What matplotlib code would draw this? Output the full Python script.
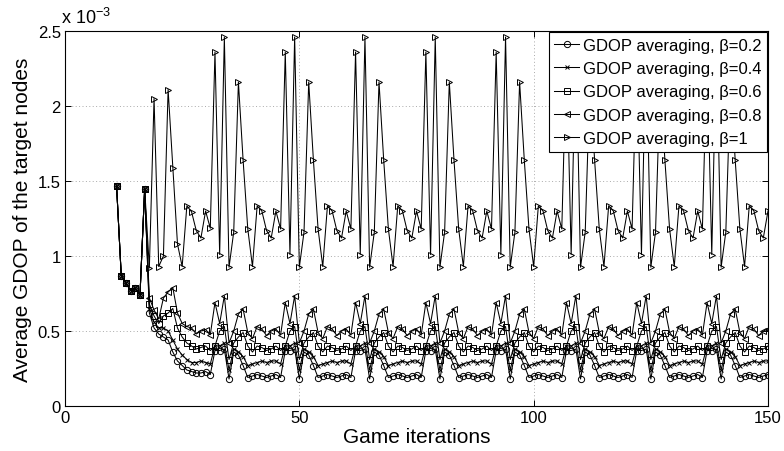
import matplotlib
matplotlib.use("Agg")
import matplotlib.pyplot as plt

plt.rcParams['font.family'] = ['Liberation Sans', 'DejaVu Sans']
plt.rcParams['mathtext.fontset'] = 'custom'
plt.rcParams['mathtext.rm'] = 'Liberation Sans'
plt.rcParams['mathtext.it'] = 'Liberation Sans:italic'

# Game iterations 11..150
iterations = list(range(11, 151))

# Average GDOP of the target nodes (units of 1e-3)
gdop_beta_02 = [
    1.47, 0.87, 0.82, 0.77, 0.785, 0.74, 1.45,
    0.62, 0.52, 0.48, 0.46, 0.44, 0.36, 0.30, 0.27, 0.24, 0.23, 0.22, 0.22, 0.23, 0.21,
    0.37, 0.37, 0.38, 0.18, 0.36, 0.34, 0.27, 0.19, 0.20, 0.21, 0.20, 0.19, 0.20, 0.21, 0.19,
    0.37, 0.37, 0.38, 0.18, 0.36, 0.34, 0.27, 0.19, 0.20, 0.21, 0.20, 0.19, 0.20, 0.21, 0.19,
    0.37, 0.37, 0.38, 0.18, 0.36, 0.34, 0.27, 0.19, 0.20, 0.21, 0.20, 0.19, 0.20, 0.21, 0.19,
    0.37, 0.37, 0.38, 0.18, 0.36, 0.34, 0.27, 0.19, 0.20, 0.21, 0.20, 0.19, 0.20, 0.21, 0.19,
    0.37, 0.37, 0.38, 0.18, 0.36, 0.34, 0.27, 0.19, 0.20, 0.21, 0.20, 0.19, 0.20, 0.21, 0.19,
    0.37, 0.37, 0.38, 0.18, 0.36, 0.34, 0.27, 0.19, 0.20, 0.21, 0.20, 0.19, 0.20, 0.21, 0.19,
    0.37, 0.37, 0.38, 0.18, 0.36, 0.34, 0.27, 0.19, 0.20, 0.21, 0.20, 0.19, 0.20, 0.21, 0.19,
    0.37, 0.37, 0.38, 0.18, 0.36, 0.34, 0.27, 0.19, 0.20, 0.21, 0.20, 0.19, 0.20, 0.21,
]
gdop_beta_04 = [
    1.47, 0.87, 0.82, 0.77, 0.785, 0.74, 1.45,
    0.65, 0.56, 0.52, 0.52, 0.50, 0.44, 0.38, 0.34, 0.31, 0.29, 0.29, 0.30, 0.29, 0.28,
    0.40, 0.40, 0.42, 0.24, 0.38, 0.36, 0.33, 0.27, 0.28, 0.29, 0.30, 0.29, 0.30, 0.30, 0.28,
    0.40, 0.40, 0.42, 0.24, 0.38, 0.36, 0.33, 0.27, 0.28, 0.29, 0.30, 0.29, 0.30, 0.30, 0.28,
    0.40, 0.40, 0.42, 0.24, 0.38, 0.36, 0.33, 0.27, 0.28, 0.29, 0.30, 0.29, 0.30, 0.30, 0.28,
    0.40, 0.40, 0.42, 0.24, 0.38, 0.36, 0.33, 0.27, 0.28, 0.29, 0.30, 0.29, 0.30, 0.30, 0.28,
    0.40, 0.40, 0.42, 0.24, 0.38, 0.36, 0.33, 0.27, 0.28, 0.29, 0.30, 0.29, 0.30, 0.30, 0.28,
    0.40, 0.40, 0.42, 0.24, 0.38, 0.36, 0.33, 0.27, 0.28, 0.29, 0.30, 0.29, 0.30, 0.30, 0.28,
    0.40, 0.40, 0.42, 0.24, 0.38, 0.36, 0.33, 0.27, 0.28, 0.29, 0.30, 0.29, 0.30, 0.30, 0.28,
    0.40, 0.40, 0.42, 0.24, 0.38, 0.36, 0.33, 0.27, 0.28, 0.29, 0.30, 0.29, 0.30, 0.30,
]
gdop_beta_06 = [
    1.47, 0.87, 0.82, 0.77, 0.785, 0.74, 1.45,
    0.68, 0.60, 0.55, 0.60, 0.62, 0.65, 0.52, 0.46, 0.42, 0.40, 0.38, 0.39, 0.40, 0.37,
    0.40, 0.50, 0.53, 0.31, 0.42, 0.46, 0.49, 0.40, 0.36, 0.40, 0.39, 0.37, 0.38, 0.40, 0.37,
    0.40, 0.50, 0.53, 0.31, 0.42, 0.46, 0.49, 0.40, 0.36, 0.40, 0.39, 0.37, 0.38, 0.40, 0.37,
    0.40, 0.50, 0.53, 0.31, 0.42, 0.46, 0.49, 0.40, 0.36, 0.40, 0.39, 0.37, 0.38, 0.40, 0.37,
    0.40, 0.50, 0.53, 0.31, 0.42, 0.46, 0.49, 0.40, 0.36, 0.40, 0.39, 0.37, 0.38, 0.40, 0.37,
    0.40, 0.50, 0.53, 0.31, 0.42, 0.46, 0.49, 0.40, 0.36, 0.40, 0.39, 0.37, 0.38, 0.40, 0.37,
    0.40, 0.50, 0.53, 0.31, 0.42, 0.46, 0.49, 0.40, 0.36, 0.40, 0.39, 0.37, 0.38, 0.40, 0.37,
    0.40, 0.50, 0.53, 0.31, 0.42, 0.46, 0.49, 0.40, 0.36, 0.40, 0.39, 0.37, 0.38, 0.40, 0.37,
    0.40, 0.50, 0.53, 0.31, 0.42, 0.46, 0.49, 0.40, 0.36, 0.40, 0.39, 0.37, 0.38, 0.40,
]
gdop_beta_08 = [
    1.47, 0.87, 0.82, 0.77, 0.785, 0.74, 1.45,
    0.72, 0.64, 0.58, 0.72, 0.76, 0.79, 0.62, 0.55, 0.53, 0.52, 0.48, 0.50, 0.51, 0.475,
    0.69, 0.55, 0.735, 0.42, 0.50, 0.613, 0.647, 0.49, 0.45, 0.53, 0.513, 0.47, 0.50, 0.513, 0.473,
    0.69, 0.55, 0.735, 0.42, 0.50, 0.613, 0.647, 0.49, 0.45, 0.53, 0.513, 0.47, 0.50, 0.513, 0.473,
    0.69, 0.55, 0.735, 0.42, 0.50, 0.613, 0.647, 0.49, 0.45, 0.53, 0.513, 0.47, 0.50, 0.513, 0.473,
    0.69, 0.55, 0.735, 0.42, 0.50, 0.613, 0.647, 0.49, 0.45, 0.53, 0.513, 0.47, 0.50, 0.513, 0.473,
    0.69, 0.55, 0.735, 0.42, 0.50, 0.613, 0.647, 0.49, 0.45, 0.53, 0.513, 0.47, 0.50, 0.513, 0.473,
    0.69, 0.55, 0.735, 0.42, 0.50, 0.613, 0.647, 0.49, 0.45, 0.53, 0.513, 0.47, 0.50, 0.513, 0.473,
    0.69, 0.55, 0.735, 0.42, 0.50, 0.613, 0.647, 0.49, 0.45, 0.53, 0.513, 0.47, 0.50, 0.513, 0.473,
    0.69, 0.55, 0.735, 0.42, 0.50, 0.613, 0.647, 0.49, 0.45, 0.53, 0.513, 0.47, 0.50, 0.513,
]
gdop_beta_10 = [
    1.47, 0.87, 0.82, 0.77, 0.785, 0.74, 1.45,
    0.92, 2.05, 0.93, 1.00, 2.11, 1.59, 1.08, 0.93, 1.335, 1.295, 1.17, 1.12, 1.30, 1.185,
    2.36, 1.01, 2.46, 0.925, 1.16, 2.16, 1.64, 1.18, 0.93, 1.335, 1.30, 1.17, 1.12, 1.30, 1.18,
    2.36, 1.01, 2.46, 0.925, 1.16, 2.16, 1.64, 1.18, 0.93, 1.335, 1.30, 1.17, 1.12, 1.30, 1.18,
    2.36, 1.01, 2.46, 0.925, 1.16, 2.16, 1.64, 1.18, 0.93, 1.335, 1.30, 1.17, 1.12, 1.30, 1.18,
    2.36, 1.01, 2.46, 0.925, 1.16, 2.16, 1.64, 1.18, 0.93, 1.335, 1.30, 1.17, 1.12, 1.30, 1.18,
    2.36, 1.01, 2.46, 0.925, 1.16, 2.16, 1.64, 1.18, 0.93, 1.335, 1.30, 1.17, 1.12, 1.30, 1.18,
    2.36, 1.01, 2.46, 0.925, 1.16, 2.16, 1.64, 1.18, 0.93, 1.335, 1.30, 1.17, 1.12, 1.30, 1.18,
    2.36, 1.01, 2.46, 0.925, 1.16, 2.16, 1.64, 1.18, 0.93, 1.335, 1.30, 1.17, 1.12, 1.30, 1.18,
    2.36, 1.01, 2.46, 0.925, 1.16, 2.16, 1.64, 1.18, 0.93, 1.335, 1.30, 1.17, 1.12, 1.30,
]

series = [
    (gdop_beta_02, 'o', 'GDOP averaging, β=0.2'),
    (gdop_beta_04, 'x', 'GDOP averaging, β=0.4'),
    (gdop_beta_06, 's', 'GDOP averaging, β=0.6'),
    (gdop_beta_08, '<', 'GDOP averaging, β=0.8'),
    (gdop_beta_10, '>', 'GDOP averaging, β=1'),
]

x_ticks = [0, 50, 100, 150]
y_ticks = [0, 0.5, 1.0, 1.5, 2.0, 2.5]
y_tick_labels = ['0', '0.5', '1', '1.5', '2', '2.5']

fig = plt.figure(figsize=(7.84, 4.52), dpi=100)
ax = fig.add_axes([65 / 784, 1 - 407 / 452, (768 - 65) / 784, (407 - 32) / 452])

for values, marker, label in series:
    ax.plot(iterations, values, color='black', linewidth=0.75, marker=marker,
            markersize=4.5 if marker != 'x' else 3.5, markerfacecolor='none',
            markeredgecolor='black', markeredgewidth=0.7, label=label)

ax.set_xlim(0, 150)
ax.set_ylim(0, 2.5)
ax.set_xticks(x_ticks)
ax.set_yticks(y_ticks)
ax.set_yticklabels(y_tick_labels)
ax.grid(True, linestyle=(0, (1, 2.5)), color='#aaaaaa', linewidth=0.7)
ax.tick_params(direction='in', top=True, right=True, length=4, width=0.7,
               labelsize=12, pad=3)
for spine in ax.spines.values():
    spine.set_linewidth(0.8)
    spine.set_color('black')

ax.set_xlabel('Game iterations', fontsize=15, labelpad=1)
ax.set_ylabel('Average GDOP of the target nodes', fontsize=15, labelpad=4)
ax.text(-0.005, 1.012, r'x 10$^{-3}$', transform=ax.transAxes, fontsize=13,
        ha='left', va='bottom')

leg = ax.legend(loc='upper right', fontsize=12, frameon=True, fancybox=False,
                framealpha=1, edgecolor='black', borderaxespad=0.05,
                handlelength=1.5, handletextpad=0.2, labelspacing=0.5,
                borderpad=0.35)
leg.get_frame().set_linewidth(0.8)

fig.savefig('out.png', dpi=100)
